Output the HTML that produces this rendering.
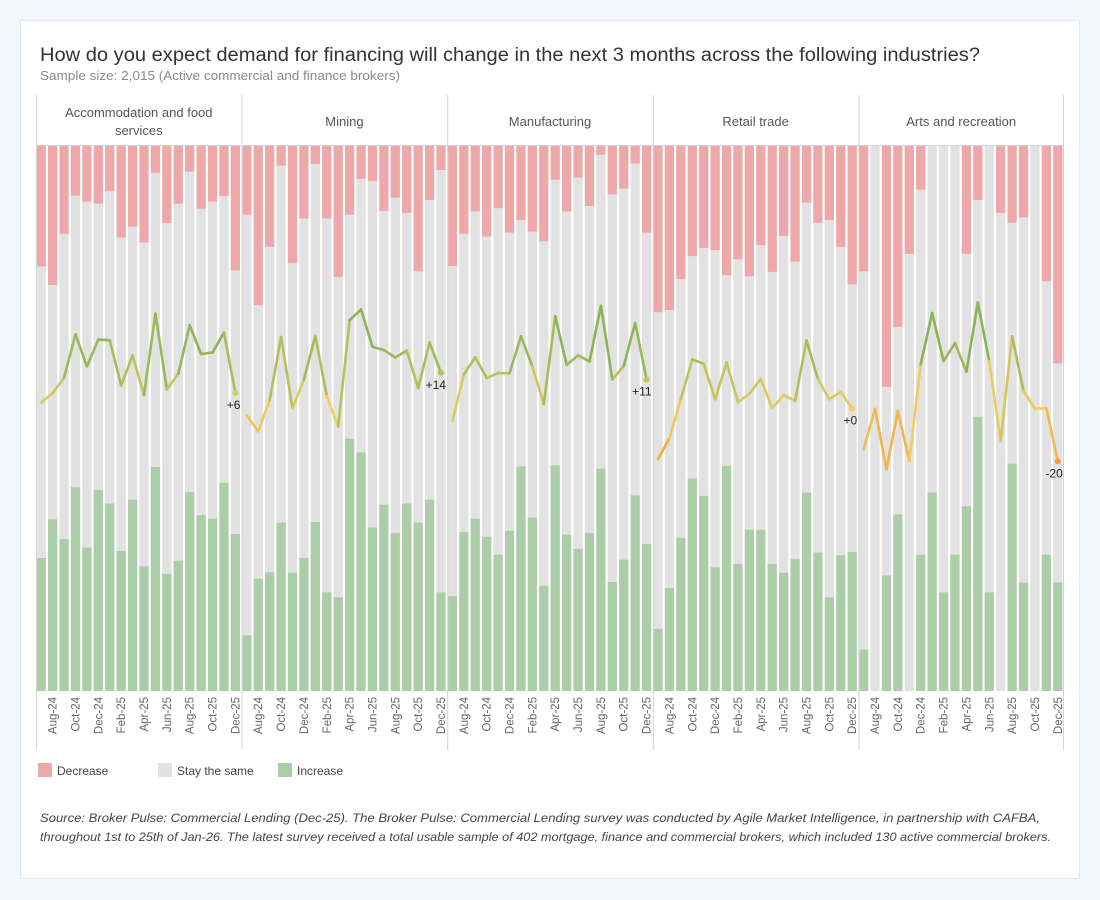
<!DOCTYPE html>
<html><head><meta charset="utf-8">
<style>
html,body{margin:0;padding:0;background:#f1f7fd;}
svg{display:block;font-family:"Liberation Sans",sans-serif;}
</style></head>
<body>
<svg id="chart" width="1100" height="900" xmlns="http://www.w3.org/2000/svg">
<rect x="20.5" y="20.5" width="1059" height="858" fill="#fff" stroke="#e3e8ee"/>
<text x="40" y="61" font-size="19" fill="#333" textLength="940" lengthAdjust="spacingAndGlyphs">How do you expect demand for financing will change in the next 3 months across the following industries?</text>
<text x="40" y="80" font-size="12.5" fill="#8a8a8a" textLength="360" lengthAdjust="spacingAndGlyphs">Sample size: 2,015 (Active commercial and finance brokers)</text>
<g id="panels"></g>
<g>
<rect x="38" y="763" width="14" height="14" fill="#efa8aa"/>
<text x="57" y="775" font-size="12" fill="#444">Decrease</text>
<rect x="158" y="763" width="14" height="14" fill="#e2e2e2"/>
<text x="177" y="775" font-size="12" fill="#444">Stay the same</text>
<rect x="278" y="763" width="14" height="14" fill="#abcea8"/>
<text x="297" y="775" font-size="12" fill="#444">Increase</text>
</g>
<text x="40" y="822" font-size="11.5" font-style="italic" fill="#444" textLength="1000" lengthAdjust="spacingAndGlyphs">Source: Broker Pulse: Commercial Lending (Dec-25). The Broker Pulse: Commercial Lending survey was conducted by Agile Market Intelligence, in partnership with CAFBA,</text>
<text x="40" y="841" font-size="11.5" font-style="italic" fill="#444" textLength="1011" lengthAdjust="spacingAndGlyphs">throughout 1st to 25th of Jan-26. The latest survey received a total usable sample of 402 mortgage, finance and commercial brokers, which included 130 active commercial brokers.</text>
</svg>
<script>
const industries = ["Accommodation and food services","Mining","Manufacturing","Retail trade","Arts and recreation"];
const months = ["Jul-24","Aug-24","Sep-24","Oct-24","Nov-24","Dec-24","Jan-25","Feb-25","Mar-25","Apr-25","May-25","Jun-25","Jul-25","Aug-25","Sep-25","Oct-25","Nov-25","Dec-25"];
const decreaseAccom = [22.1,25.5,16.1,9.1,10.2,10.6,8.3,16.8,14.8,17.7,4.9,14.1,10.6,4.7,11.5,10.2,9.2,22.8];
const increaseAccom = [24.4,31.5,27.9,37.4,26.3,36.9,34.4,25.7,35.1,22.9,41.1,21.5,23.9,36.5,32.3,31.6,38.2,28.8];
const decreaseMining = [12.6,29.2,18.5,3.6,21.5,13.3,3.3,13.3,24.0,12.6,6.0,6.4,11.9,9.5,12.3,23.0,9.9,4.4];
const increaseMining = [10.2,20.6,21.8,30.9,21.7,24.4,31.0,18.1,17.2,46.3,43.8,30.0,34.2,29.0,34.4,30.9,35.1,18.1];
const decreaseManuf = [22.0,16.1,12.0,16.6,11.4,15.9,13.6,15.7,17.5,6.2,12.0,5.8,11.0,1.6,8.9,7.8,3.2,15.9];
const increaseManuf = [17.4,29.2,31.6,28.3,25.0,29.4,41.2,31.8,19.3,41.4,28.7,26.1,29.0,40.8,20.0,24.1,35.9,27.0];
const decreaseRetail = [30.5,30.1,24.4,20.2,18.7,19.1,23.7,20.8,23.9,18.2,23.1,16.5,21.2,10.4,14.1,13.6,18.5,25.4];
const increaseRetail = [11.4,18.9,28.1,39.0,35.8,22.7,41.3,23.3,29.6,29.6,23.3,21.7,24.2,36.4,25.4,17.2,24.9,25.5];
const decreaseArts = [23.0,0,44.2,33.2,19.8,8.0,0,0,0,19.8,9.9,0,12.3,14.1,13.1,0,24.8,39.9];
const increaseArts = [7.6,0,21.2,32.4,0,25.0,36.4,18.1,25.0,33.9,50.3,18.1,0,41.7,19.9,0,25.0,19.9];
const decreaseSeries = [decreaseAccom,decreaseMining,decreaseManuf,decreaseRetail,decreaseArts];
const increaseSeries = [increaseAccom,increaseMining,increaseManuf,increaseRetail,increaseArts];

const NS="http://www.w3.org/2000/svg";
const root=document.getElementById('panels');
const X0=36, PW=205.6, TOP=146, BOT=691, HDR=95, AXB=750;
const yPct=v=>TOP+(v/100)*(BOT-TOP);
const yNet=v=>408.8-v*2.63;
function mk(tag,attrs,parent){const e=document.createElementNS(NS,tag);for(const k in attrs)e.setAttribute(k,attrs[k]);(parent||root).appendChild(e);return e;}
function lerp(a,b,t){return a.map((c,i)=>Math.round(c+(b[i]-c)*t));}
function netColor(v){
  const o=[247,160,58],y=[240,208,96],g=[138,180,88];
  let c; if(v<=0){c=lerp(y,o,Math.min(1,-v/20));} else {c=lerp(y,g,Math.min(1,v/25));}
  return `rgb(${c.join(',')})`;
}
const step=PW/18;
industries.forEach((name,p)=>{
  const px=X0+p*PW;
  const g=mk('g',{});
  
  
  const words=name.split(' ');
  if(name.length>25){
    const h=mk('text',{x:px+PW/2,y:117,'font-size':13,fill:'#555','text-anchor':'middle'},g);
    
    
    h.textContent=words.slice(0,3).join(' ');
    const h2=mk('text',{x:px+PW/2,y:135,'font-size':13,fill:'#555','text-anchor':'middle'},g);
    
    
    h2.textContent=words.slice(3).join(' ');
  } else {
    const h=mk('text',{x:px+PW/2,y:126,'font-size':13,fill:'#555','text-anchor':'middle'},g);
    
    
    h.textContent=name;
  }
  const dec=decreaseSeries[p], inc=increaseSeries[p];
  const pts=[];
  months.forEach((m,i)=>{
    const bx=px+i*step+0.6, bw=step-2.2;
    const r1=mk('rect',{x:bx,y:TOP,width:bw,height:BOT-TOP,fill:'#e2e2e2'},g);
    
    
    const r2=mk('rect',{x:bx,y:TOP,width:bw,height:yPct(dec[i])-TOP,fill:'#efa8aa'},g);
    
    
    const r3=mk('rect',{x:bx,y:yPct(100-inc[i]),width:bw,height:BOT-yPct(100-inc[i]),fill:'#abcea8'},g);
    
    
    const net=inc[i]-dec[i];
    pts.push([bx+bw/2,yNet(net),net]);
    if(i%2===1){
      const cx=bx+bw/2+4, cy=697;
      const t=mk('text',{x:cx,y:cy,'font-size':11.5,fill:'#666','text-anchor':'end',transform:`rotate(-90 ${cx} ${cy})`},g);
      
      
      t.textContent=m;
    }
  });
  for(let i=0;i<pts.length-1;i++){
    const s=mk('line',{x1:pts[i][0],y1:pts[i][1],x2:pts[i+1][0],y2:pts[i+1][1],stroke:netColor((pts[i][2]+pts[i+1][2])/2),'stroke-width':2.6,'stroke-linecap':'round'},g);
    
    
  }
  const last=pts[pts.length-1];
  const d=mk('circle',{cx:last[0],cy:last[1],r:3,fill:netColor(last[2])},g);
  
  
  const v=Math.round(last[2]);
  const lbl=mk('text',{x:last[0]+5,y:last[1]+16,'font-size':12,fill:'#222','text-anchor':'end'},g);
  
  
  lbl.textContent=(v>=0?'+':'')+v;
  const dv=mk('line',{x1:px+0.5,y1:HDR,x2:px+0.5,y2:AXB,stroke:'#d4d4d4'},g);
  
  
});
const endDiv=mk('line',{x1:X0+PW*5-0.5,y1:HDR,x2:X0+PW*5-0.5,y2:AXB,stroke:'#d4d4d4'});


const hl=mk('line',{x1:X0,y1:TOP-0.5,x2:X0+PW*5,y2:TOP-0.5,stroke:'#d4d4d4'});


</script>
</body></html>
